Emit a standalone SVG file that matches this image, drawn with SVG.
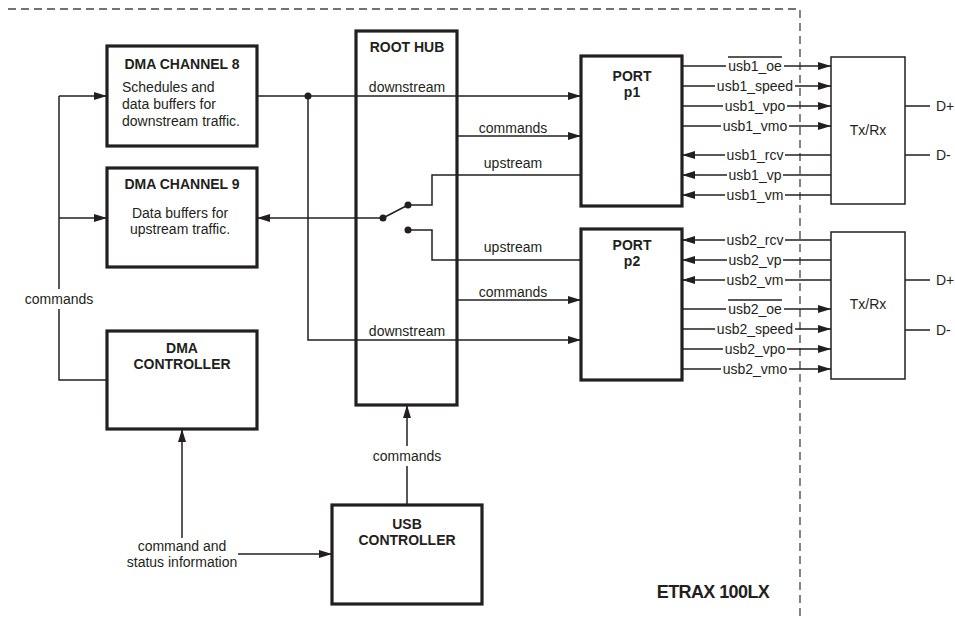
<svg xmlns="http://www.w3.org/2000/svg" width="955" height="623" viewBox="0 0 955 623">
<defs>
<marker id="arr" markerUnits="userSpaceOnUse" markerWidth="13" markerHeight="8" refX="13" refY="4" orient="auto">
<path d="M0,0 L13,4 L0,8 z" fill="#231f20"/>
</marker>
<style>
.box{fill:#fff;stroke:#231f20;stroke-width:3.2}
.thin{fill:#fff;stroke:#231f20;stroke-width:1.5}
.ln{fill:none;stroke:#231f20;stroke-width:1.5}
.ar{fill:none;stroke:#231f20;stroke-width:1.5;marker-end:url(#arr)}
.dash{fill:none;stroke:#444;stroke-width:1.3;stroke-dasharray:8 5}
.t{font-family:"Liberation Sans",Arial,sans-serif;font-size:14px;fill:#231f20}
.c{text-anchor:middle}
.b{font-weight:bold}
.dot{fill:#231f20}
</style>
</defs>
<rect width="955" height="623" fill="#fff"/>
<path class="dash" d="M8,9 H800 V620"/>

<g id="connectors">
<path class="ln" d="M59,96 V289"/>
<path class="ln" d="M59,309 V380 H107"/>
<path class="ar" d="M59,96 H107"/>
<path class="ar" d="M59,218 H107"/>
<text class="t c" x="59" y="304">commands</text>
<path class="ar" d="M257,96 H581"/>
<circle class="dot" cx="308" cy="96" r="3.5"/>
<path class="ar" d="M308,96 V340 H581"/>
<text class="t c" x="407" y="92">downstream</text>
<text class="t c" x="407" y="336">downstream</text>
<path class="ar" d="M457,136 H581"/>
<text class="t c" x="513" y="133">commands</text>
<path class="ar" d="M457,300 H581"/>
<text class="t c" x="513" y="297">commands</text>
<path class="ln" d="M581,175 H432 V205 H408"/>
<text class="t c" x="513" y="168">upstream</text>
<path class="ln" d="M581,260 H432 V230 H408"/>
<text class="t c" x="513" y="252">upstream</text>
<path class="ln" d="M383,218 L408,205"/>
<circle class="dot" cx="383" cy="218" r="3.5"/>
<circle class="dot" cx="408" cy="205" r="3.5"/>
<circle class="dot" cx="408" cy="230" r="3.5"/>
<path class="ar" d="M383,218 H257"/>
<path class="ln" d="M407,505 V466"/>
<path class="ar" d="M407,446 V405"/>
<text class="t c" x="407" y="461">commands</text>
<path class="ar" d="M182,538 V429"/>
<path class="ar" d="M238,554 H332"/>
<text class="t c" x="182" y="551">command and</text>
<text class="t c" x="182" y="567">status information</text>

<path class="ln" d="M682,66 H726"/><path class="ar" d="M784,66 H831"/>
<text class="t c" x="755" y="71">usb1_oe</text>
<path class="ln" d="M728,57 H782"/>
<path class="ln" d="M682,86 H715"/><path class="ar" d="M795,86 H831"/>
<text class="t c" x="755" y="91">usb1_speed</text>
<path class="ln" d="M682,106 H723"/><path class="ar" d="M787,106 H831"/>
<text class="t c" x="755" y="111">usb1_vpo</text>
<path class="ln" d="M682,126 H721"/><path class="ar" d="M789,126 H831"/>
<text class="t c" x="755" y="131">usb1_vmo</text>
<path class="ar" d="M725,155 H682"/><path class="ln" d="M785,155 H831"/>
<text class="t c" x="755" y="160">usb1_rcv</text>
<path class="ar" d="M727,175 H682"/><path class="ln" d="M783,175 H831"/>
<text class="t c" x="755" y="180">usb1_vp</text>
<path class="ar" d="M725,195 H682"/><path class="ln" d="M785,195 H831"/>
<text class="t c" x="755" y="200">usb1_vm</text>

<path class="ar" d="M725,240 H682"/><path class="ln" d="M785,240 H831"/>
<text class="t c" x="755" y="245">usb2_rcv</text>
<path class="ar" d="M727,260 H682"/><path class="ln" d="M783,260 H831"/>
<text class="t c" x="755" y="265">usb2_vp</text>
<path class="ar" d="M725,280 H682"/><path class="ln" d="M785,280 H831"/>
<text class="t c" x="755" y="285">usb2_vm</text>
<path class="ln" d="M682,309 H726"/><path class="ar" d="M784,309 H831"/>
<text class="t c" x="755" y="314">usb2_oe</text>
<path class="ln" d="M728,300 H782"/>
<path class="ln" d="M682,329 H715"/><path class="ar" d="M795,329 H831"/>
<text class="t c" x="755" y="334">usb2_speed</text>
<path class="ln" d="M682,349 H723"/><path class="ar" d="M787,349 H831"/>
<text class="t c" x="755" y="354">usb2_vpo</text>
<path class="ln" d="M682,369 H721"/><path class="ar" d="M789,369 H831"/>
<text class="t c" x="755" y="374">usb2_vmo</text>

<path class="ln" d="M905,106 H930 M905,155 H930 M905,280 H930 M905,330 H930"/>
<text class="t" x="936" y="111">D+</text>
<text class="t" x="936" y="160">D-</text>
<text class="t" x="936" y="285">D+</text>
<text class="t" x="936" y="335">D-</text>
</g>

<g id="dma8">
<rect class="box" x="107" y="46" width="150" height="100"/>
<text class="t c b" x="182" y="69">DMA CHANNEL 8</text>
<text class="t" x="122" y="92">Schedules and</text>
<text class="t" x="122" y="109">data buffers for</text>
<text class="t" x="122" y="126">downstream traffic.</text>
</g>
<g id="dma9">
<rect class="box" x="107" y="168" width="150" height="99"/>
<text class="t c b" x="182" y="189">DMA CHANNEL 9</text>
<text class="t c" x="180" y="218">Data buffers for</text>
<text class="t c" x="180" y="234">upstream traffic.</text>
</g>
<g id="dmactrl">
<rect class="box" x="107" y="331" width="150" height="98"/>
<text class="t c b" x="182" y="353">DMA</text>
<text class="t c b" x="182" y="369">CONTROLLER</text>
</g>
<g id="roothub">
<rect class="box" x="356" y="31" width="101" height="374" style="fill:none"/>
<text class="t c b" x="407" y="52">ROOT HUB</text>
</g>
<g id="port1">
<rect class="box" x="581" y="56" width="101" height="150"/>
<text class="t c b" x="632" y="81">PORT</text>
<text class="t c b" x="632" y="97">p1</text>
</g>
<g id="port2">
<rect class="box" x="581" y="229" width="101" height="151"/>
<text class="t c b" x="632" y="250">PORT</text>
<text class="t c b" x="632" y="266">p2</text>
</g>
<g id="txrx1">
<rect class="thin" x="831" y="57" width="74" height="147"/>
<text class="t c" x="868" y="135">Tx/Rx</text>
</g>
<g id="txrx2">
<rect class="thin" x="831" y="232" width="74" height="147"/>
<text class="t c" x="868" y="309">Tx/Rx</text>
</g>
<g id="usbctrl">
<rect class="box" x="332" y="505" width="150" height="99"/>
<text class="t c b" x="407" y="529">USB</text>
<text class="t c b" x="407" y="545">CONTROLLER</text>
</g>
<g id="etrax">
<text class="t c b" x="713" y="598" style="font-size:18px" letter-spacing="-0.6">ETRAX 100LX</text>
</g>
</svg>
